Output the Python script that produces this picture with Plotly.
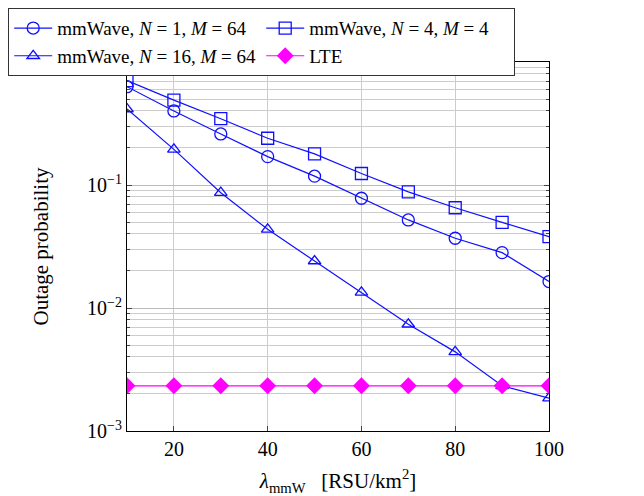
import plotly.graph_objects as go

x = [10, 20, 30, 40, 50, 60, 70, 80, 90, 100]
n1_m64 = [0.63, 0.40, 0.26, 0.17, 0.118, 0.078, 0.052, 0.0369, 0.0282, 0.0164]
n4_m4 = [0.705, 0.49, 0.346, 0.24, 0.179, 0.124, 0.088, 0.0653, 0.0497, 0.038]
n16_m64 = [0.415, 0.195, 0.0866, 0.0436, 0.0241, 0.0134, 0.00738, 0.0044, 0.00233, 0.00185]
lte = [0.00233] * 10

names = [
    "mmWave, <i>N</i> = 1, <i>M</i> = 64",
    "mmWave, <i>N</i> = 4, <i>M</i> = 4",
    "mmWave, <i>N</i> = 16, <i>M</i> = 64",
    "LTE",
]
y_tick_vals = [1e-3, 1e-2, 1e-1]
y_tick_text = ["10<sup>−3</sup>", "10<sup>−2</sup>", "10<sup>−1</sup>"]
x_tick_vals = [20, 40, 60, 80, 100]

blue = "#1010ff"
magenta = "#ff00ff"
font = "Liberation Serif, DejaVu Serif, serif"
fs = 20

# page has an 8px body offset; compensate in the margins
L, R, T, B = 119, 103, 54, 73
W, H = 644, 496
pw, ph = W - L - R, H - T - B

fig = go.Figure()
fig.add_trace(go.Scatter(x=x, y=n1_m64, name=names[0], mode="lines+markers",
                         line=dict(color=blue, width=1.2),
                         marker=dict(symbol="circle-open", size=12, color=blue, line=dict(width=1.3))))
fig.add_trace(go.Scatter(x=x, y=n4_m4, name=names[1], mode="lines+markers",
                         line=dict(color=blue, width=1.2),
                         marker=dict(symbol="square-open", size=12, color=blue, line=dict(width=1.3))))
fig.add_trace(go.Scatter(x=x, y=n16_m64, name=names[2], mode="lines+markers",
                         line=dict(color=blue, width=1.2),
                         marker=dict(symbol="triangle-up-open", size=11, color=blue, line=dict(width=1.3))))
fig.add_trace(go.Scatter(x=x, y=lte, name=names[3], mode="lines+markers",
                         line=dict(color=magenta, width=1.2),
                         marker=dict(symbol="diamond", size=13, color=magenta)))

fig.update_layout(
    width=W, height=H,
    margin=dict(l=L, r=R, t=T, b=B, autoexpand=False),
    paper_bgcolor="white", plot_bgcolor="white",
    font=dict(family=font, size=fs, color="black"),
    showlegend=True,
    legend=dict(
        orientation="h",
        x=(0 - L) / pw, y=(H - B - 0) / ph, xanchor="left", yanchor="top",
        bgcolor="white", bordercolor="#333", borderwidth=1.2,
        entrywidth=199, entrywidthmode="pixels",
        font=dict(family=font, size=19),
        itemwidth=38, tracegroupgap=0,
    ),
    xaxis=dict(
        range=[10, 100], tickvals=x_tick_vals,
        showgrid=True, gridcolor="#cccccc", gridwidth=1,
        showline=True, linecolor="black", linewidth=1.2, mirror="allticks",
        ticks="inside", ticklen=5, tickcolor="#444",
        zeroline=False,
        title=dict(text="<i>λ</i><sub>mmW</sub>   [RSU/km<sup>2</sup>]", standoff=14,
                   font=dict(family=font, size=21)),
        tickfont=dict(family=font, size=fs),
    ),
    yaxis=dict(
        type="log", range=[-3, 0],
        tickvals=y_tick_vals, ticktext=y_tick_text,
        showgrid=True, gridcolor="#bbbbbb", gridwidth=1,
        showline=True, linecolor="black", linewidth=1.2, mirror="allticks",
        ticks="inside", ticklen=5, tickcolor="#444",
        minor=dict(showgrid=True, gridcolor="#cccccc", gridwidth=1, ticks="inside",
                   ticklen=3, tickcolor="#444", dtick="D1"),
        zeroline=False,
        title=dict(text="Outage probability", standoff=32, font=dict(family=font, size=21)),
        tickfont=dict(family=font, size=fs),
    ),
)

fig.write_html("out.html")
